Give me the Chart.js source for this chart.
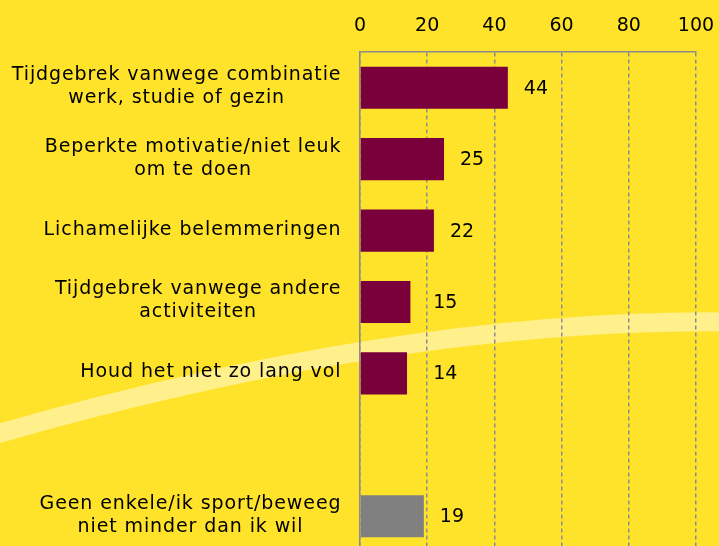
<!DOCTYPE html>
<html>
<head>
<meta charset="utf-8">
<script src="https://cdn.jsdelivr.net/npm/chart.js@4"></script>
<style>
  html, body { margin: 0; padding: 0; background: #FFE32B; overflow: hidden; }
</style>
</head>
<body>
<canvas id="myChart" width="719" height="552"></canvas>
<script>
const categories = [
  ["Tijdgebrek vanwege combinatie", "werk, studie of gezin"],
  ["Beperkte motivatie/niet leuk", "om te doen"],
  "Lichamelijke belemmeringen",
  ["Tijdgebrek vanwege andere", "activiteiten"],
  "Houd het niet zo lang vol",
  "",
  ["Geen enkele/ik sport/beweeg", "niet minder dan ik wil"]
]
const values = [44, 25, 22, 15, 14, null, 19]
const barColors = ["#7A003C", "#7A003C", "#7A003C", "#7A003C", "#7A003C", "#7A003C", "#808080"]
const xTicks = [0, 20, 40, 60, 80, 100]

const fontFamily = "'DejaVu Sans', sans-serif"

// light curved band behind the chart
const bandPlugin = {
  id: 'band',
  beforeDraw(chart) {
    const ctx = chart.ctx
    ctx.save()
    ctx.strokeStyle = "#FFF08C"
    ctx.lineWidth = 19
    ctx.beginPath()
    ctx.moveTo(-10, 436)
    ctx.quadraticCurveTo(400, 318, 730, 322)
    ctx.stroke()
    ctx.restore()
  }
}

// category labels, lines centred within each block (like the original)
const categoryLabels = {
  id: 'categoryLabels',
  afterDraw(chart) {
    const ctx = chart.ctx
    const yScale = chart.scales.y
    const right = yScale.right - 19
    ctx.save()
    ctx.font = "19px " + fontFamily
    ctx.letterSpacing = "0.9px"
    ctx.fillStyle = "#000"
    ctx.textAlign = "center"
    ctx.textBaseline = "middle"
    categories.forEach((lab, i) => {
      const lines = Array.isArray(lab) ? lab : [lab]
      const maxW = Math.max(...lines.map(l => ctx.measureText(l).width)) - 0.9
      const cx = right - maxW / 2
      const cy = yScale.getPixelForTick(i)
      lines.forEach((l, j) => {
        ctx.fillText(l, cx, cy + (j - (lines.length - 1) / 2) * 23 - 1)
      })
    })
    ctx.restore()
  }
}

// value labels right of the bars
const valueLabels = {
  id: 'valueLabels',
  afterDatasetsDraw(chart) {
    const ctx = chart.ctx
    const meta = chart.getDatasetMeta(0)
    const minX = chart.scales.x.getPixelForValue(20) + 6
    ctx.save()
    ctx.font = "19px " + fontFamily
    ctx.fillStyle = "#000"
    ctx.textAlign = "left"
    ctx.textBaseline = "middle"
    meta.data.forEach((bar, i) => {
      if (values[i] == null) return
      ctx.fillText(values[i], Math.max(bar.x + 16, minX), bar.y + 1)
    })
    ctx.restore()
  }
}

new Chart(document.getElementById('myChart'), {
  type: 'bar',
  data: {
    labels: categories,
    datasets: [{
      data: values,
      backgroundColor: barColors,
      borderWidth: 0,
      categoryPercentage: 1,
      barPercentage: 0.59
    }]
  },
  options: {
    indexAxis: 'y',
    responsive: false,
    animation: false,
    layout: { padding: { left: 0, right: 23, top: 0, bottom: 0 } },
    plugins: { legend: { display: false }, tooltip: { enabled: false } },
    scales: {
      x: {
        position: 'top',
        min: 0,
        max: 100,
        afterBuildTicks(scale) { scale.ticks = xTicks.map(v => ({ value: v })) },
        afterFit(scale) {
          scale.height = 52
          scale.paddingLeft = 0
          scale.paddingRight = 0
        },
        grid: { color: "#8C8C8C", lineWidth: 1.5, drawTicks: false },
        border: { display: true, color: "#8C8C8C", width: 1.5, dash: [4, 3] },
        ticks: { color: "#000", padding: 15, font: { size: 19, family: fontFamily } }
      },
      y: {
        afterFit(scale) {
          scale.width = 360
          scale.paddingTop = 0
          scale.paddingBottom = 0
        },
        grid: { display: false, drawTicks: false },
        border: { display: true, color: "#8C8C8C", width: 1.5 },
        ticks: { display: false }
      }
    }
  },
  plugins: [bandPlugin, categoryLabels, valueLabels]
})
</script>
</body>
</html>
